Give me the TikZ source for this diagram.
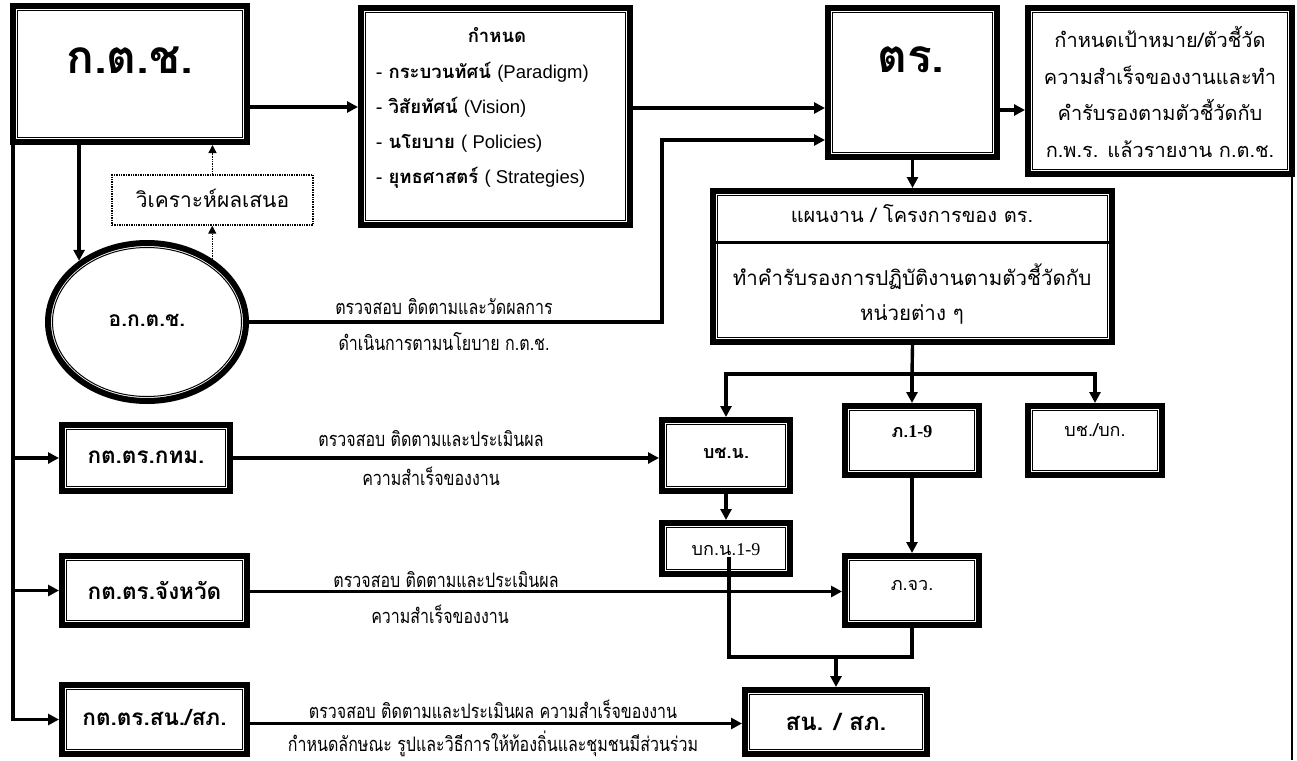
\documentclass[tikz,border=0pt]{standalone}
\usepackage{fontspec}
\setmainfont[Script=Thai]{Loma}
\newfontfamily\latinfont{Liberation Sans}
\newfontfamily\serfont{Liberation Serif}
\newfontfamily\narrowfont[Script=Thai,FakeStretch=0.8]{Loma}
\usetikzlibrary{arrows.meta,shapes.geometric,positioning}
\newcommand\lat[1]{{\latinfont #1}}
\newcommand\ser[1]{{\serfont #1}}

\tikzset{
  dbox/.style={draw, line width=6pt, inner sep=0pt},
  ring/.style={ellipse, draw, line width=6pt, inner sep=0pt},
  dotbox/.style={draw, densely dotted, line width=1.4pt, inner sep=0pt},
  link/.style={line width=3.4pt, -{Triangle[length=11pt,width=11pt]}},
  bare/.style={line width=3.4pt},
  hint/.style={densely dotted, line width=1.4pt, -{Triangle[length=8pt,width=8pt]}},
  note/.style={font=\narrowfont\fontsize{20}{22}\selectfont, inner sep=0pt},
  head/.style={font=\bfseries\fontsize{46}{50}\selectfont, inner sep=0pt},
  unit/.style={font=\bfseries\fontsize{22.5}{26}\selectfont, inner sep=0pt},
  body/.style={font=\fontsize{18.5}{35}\selectfont, inner sep=0pt},
}

\begin{document}
\begin{tikzpicture}[x=1pt,y=-1pt]
\useasboundingbox (0,0) rectangle (1297,760);

% top row
\node[dbox, minimum width=234, minimum height=136] (kcs) at (130,74) {};
\node[head] (kcst) at (130,60) {ก.ต.ช.};
\node[dbox, minimum width=269, minimum height=217] (kn) at (495.5,116.5) {};
\node[body, font=\bfseries\fontsize{18.5}{35}\selectfont] (knt) at (497,35) {กำหนด};
\node[body, anchor=west, align=left] (knl) at (376,125)
  {- \textbf{กระบวนทัศน์} \lat{(Paradigm)}\\
   - \textbf{วิสัยทัศน์} \lat{(Vision)}\\
   - \textbf{นโยบาย} \lat{( Policies)}\\
   - \textbf{ยุทธศาสตร์} \lat{( Strategies)}};
\node[dbox, minimum width=169, minimum height=149] (tr) at (912.5,82.5) {};
\node[head] (trt) at (911,60) {ตร.};
\node[dbox, minimum width=264, minimum height=166] (rb) at (1160,91) {};
\node[body, align=center, font=\fontsize{20}{36.5}\selectfont] (rbt) at (1160,92)
  {กำหนดเป้าหมาย/ตัวชี้วัด\\ความสำเร็จของงานและทำ\\คำรับรองตามตัวชี้วัดกับ\\ก.พ.ร. แล้วรายงาน ก.ต.ช.};

% analysis and sub-committee
\node[dotbox, minimum width=201, minimum height=50] (ana) at (212.5,200) {};
\node[body, font=\fontsize{21}{24}\selectfont] (anat) at (212.5,198) {วิเคราะห์ผลเสนอ};
\node[ring, minimum width=198, minimum height=158] (akcs) at (147,322) {};
\node[unit, font=\bfseries\fontsize{21}{24}\selectfont] (akcst) at (147,320) {อ.ก.ต.ช.};

% plan box
\node[dbox, minimum width=399, minimum height=151] (pl) at (912.5,266.5) {};
\node[body, font=\fontsize{20}{35}\selectfont] (plt) at (912,214) {แผนงาน / โครงการของ ตร.};
\node[body, align=center, font=\fontsize{20.5}{35}\selectfont] (plb) at (912,294)
  {ทำคำรับรองการปฏิบัติงานตามตัวชี้วัดกับ\\หน่วยต่าง ๆ};
\draw[line width=3pt] ([xshift=4pt]pl.west |- 0,242) -- ([xshift=-4pt]pl.east |- 0,242);

% units
\node[dbox, minimum width=128, minimum height=71] (bchn) at (726,455.5) {};
\node[unit, font=\bfseries\fontsize{18}{22}\selectfont] (bchnt) at (726,453) {บช.น.};
\node[dbox, minimum width=134, minimum height=69] (pak) at (912,440.5) {};
\node[unit, font=\bfseries\fontsize{18}{22}\selectfont] (pakt) at (912,432) {ภ.\ser{1-9}};
\node[dbox, minimum width=134, minimum height=69] (bkb) at (1095,440.5) {};
\node[unit, font=\fontsize{18}{22}\selectfont] (bkbt) at (1095,430) {บช./บก.};
\node[dbox, minimum width=128, minimum height=51] (bkn) at (726,548.5) {};
\node[unit, font=\fontsize{18}{22}\selectfont] (bknt) at (726,550) {บก.น.\ser{1-9}};
\node[dbox, minimum width=134, minimum height=69] (pjw) at (912,590.5) {};
\node[unit, font=\fontsize{18}{22}\selectfont] (pjwt) at (912,585) {ภ.จว.};
\node[dbox, minimum width=182, minimum height=64] (snsp) at (836,722) {};
\node[unit, font=\bfseries\fontsize{24}{28}\selectfont] (snspt) at (836,722) {สน. / สภ.};

% committees on the left
\node[dbox, minimum width=168, minimum height=66] (kb) at (146,458) {};
\node[unit] (kbt) at (146,457) {กต.ตร.กทม.};
\node[dbox, minimum width=185, minimum height=69] (kj) at (154.5,590.5) {};
\node[unit] (kjt) at (154.5,590) {กต.ตร.จังหวัด};
\node[dbox, minimum width=185, minimum height=69] (ks) at (154.5,719.5) {};
\node[unit] (kst) at (154.5,717) {กต.ตร.สน./สภ.};

% inner thin frames
\foreach \n in {kcs,kn,tr,rb,pl,bchn,pak,bkb,bkn,pjw,snsp,kb,kj,ks}
  \draw[line width=1pt] ([shift={(7.5pt,7.5pt)}]\n.south west) rectangle ([shift={(-7.5pt,-7.5pt)}]\n.north east);
\draw[line width=1pt] (akcs.center) ellipse [x radius=94.5pt, y radius=74.5pt];

% connectors
\coordinate (trunk) at (13,145);
\coordinate (bend) at (662,140);
\coordinate (fork) at (912,374);
\coordinate (merge) at (836,657);
\draw[link] ([yshift=-33pt]kcs.east) -- ([yshift=-33pt]kcs.east -| kn.west);
\draw[link] ([yshift=8.5pt]kn.east) -- ([yshift=8.5pt]kn.east -| tr.west);
\draw[link] (akcs.east) -| (bend) -- (bend -| tr.west);
\draw[link] ([yshift=-27.5pt]tr.east) -- ([yshift=-27.5pt]tr.east -| rb.west);
\draw[bare, line width=2.5pt] ([xshift=-3pt]rb.south east) -- ([xshift=-3pt]rb.south east |- 0,760);
\draw[link] (kcs.south -| akcs.138) -- (akcs.138);
\draw[hint] (akcs.44) -- (akcs.44 |- ana.south);
\draw[hint] (ana.north) -- (ana.north |- kcs.south);
\draw[link] (trunk) |- (ks.west);
\draw[link] (trunk |- kb.west) -- (kb.west);
\draw[link] (trunk |- kj.west) -- (kj.west);
\draw[link] (tr.south) -- (pl.north);
\draw[bare] (pl.south) -- (fork);
\draw[link] (fork) -- (pak.north);
\draw[link] (fork) -| (bchn.north);
\draw[link] (fork) -| (bkb.north);
\draw[link] (kb.east) -- (kb.east -| bchn.west);
\draw[link] (bchn.south) -- (bkn.north);
\draw[link] (pak.south) -- (pjw.north);
\draw[link] ([yshift=-1pt]kj.east) -- ([yshift=-1pt]kj.east -| pjw.west);
\draw[link] ([yshift=-4pt]ks.east) -- ([yshift=-4pt]ks.east -| snsp.west);
\draw[bare] ([shift={(3pt,-8pt)}]bkn.center) |- (pjw.south |- merge) -- (pjw.south);
\draw[link] (merge) -- (snsp.north);

% labels on the lines
\node[note] (l1a) at (444,307) {ตรวจสอบ ติดตามและวัดผลการ};
\node[note] (l1b) at (444,342) {ดำเนินการตามนโยบาย ก.ต.ช.};
\node[note] (l2a) at (431,439) {ตรวจสอบ ติดตามและประเมินผล};
\node[note] (l2b) at (431,476) {ความสำเร็จของงาน};
\node[note] (l3a) at (446,580) {ตรวจสอบ ติดตามและประเมินผล};
\node[note] (l3b) at (440,614) {ความสำเร็จของงาน};
\node[note] (l4a) at (493,709) {ตรวจสอบ ติดตามและประเมินผล ความสำเร็จของงาน};
\node[note] (l4b) at (493,744) {กำหนดลักษณะ รูปและวิธีการให้ท้องถิ่นและชุมชนมีส่วนร่วม};
\end{tikzpicture}
\end{document}
